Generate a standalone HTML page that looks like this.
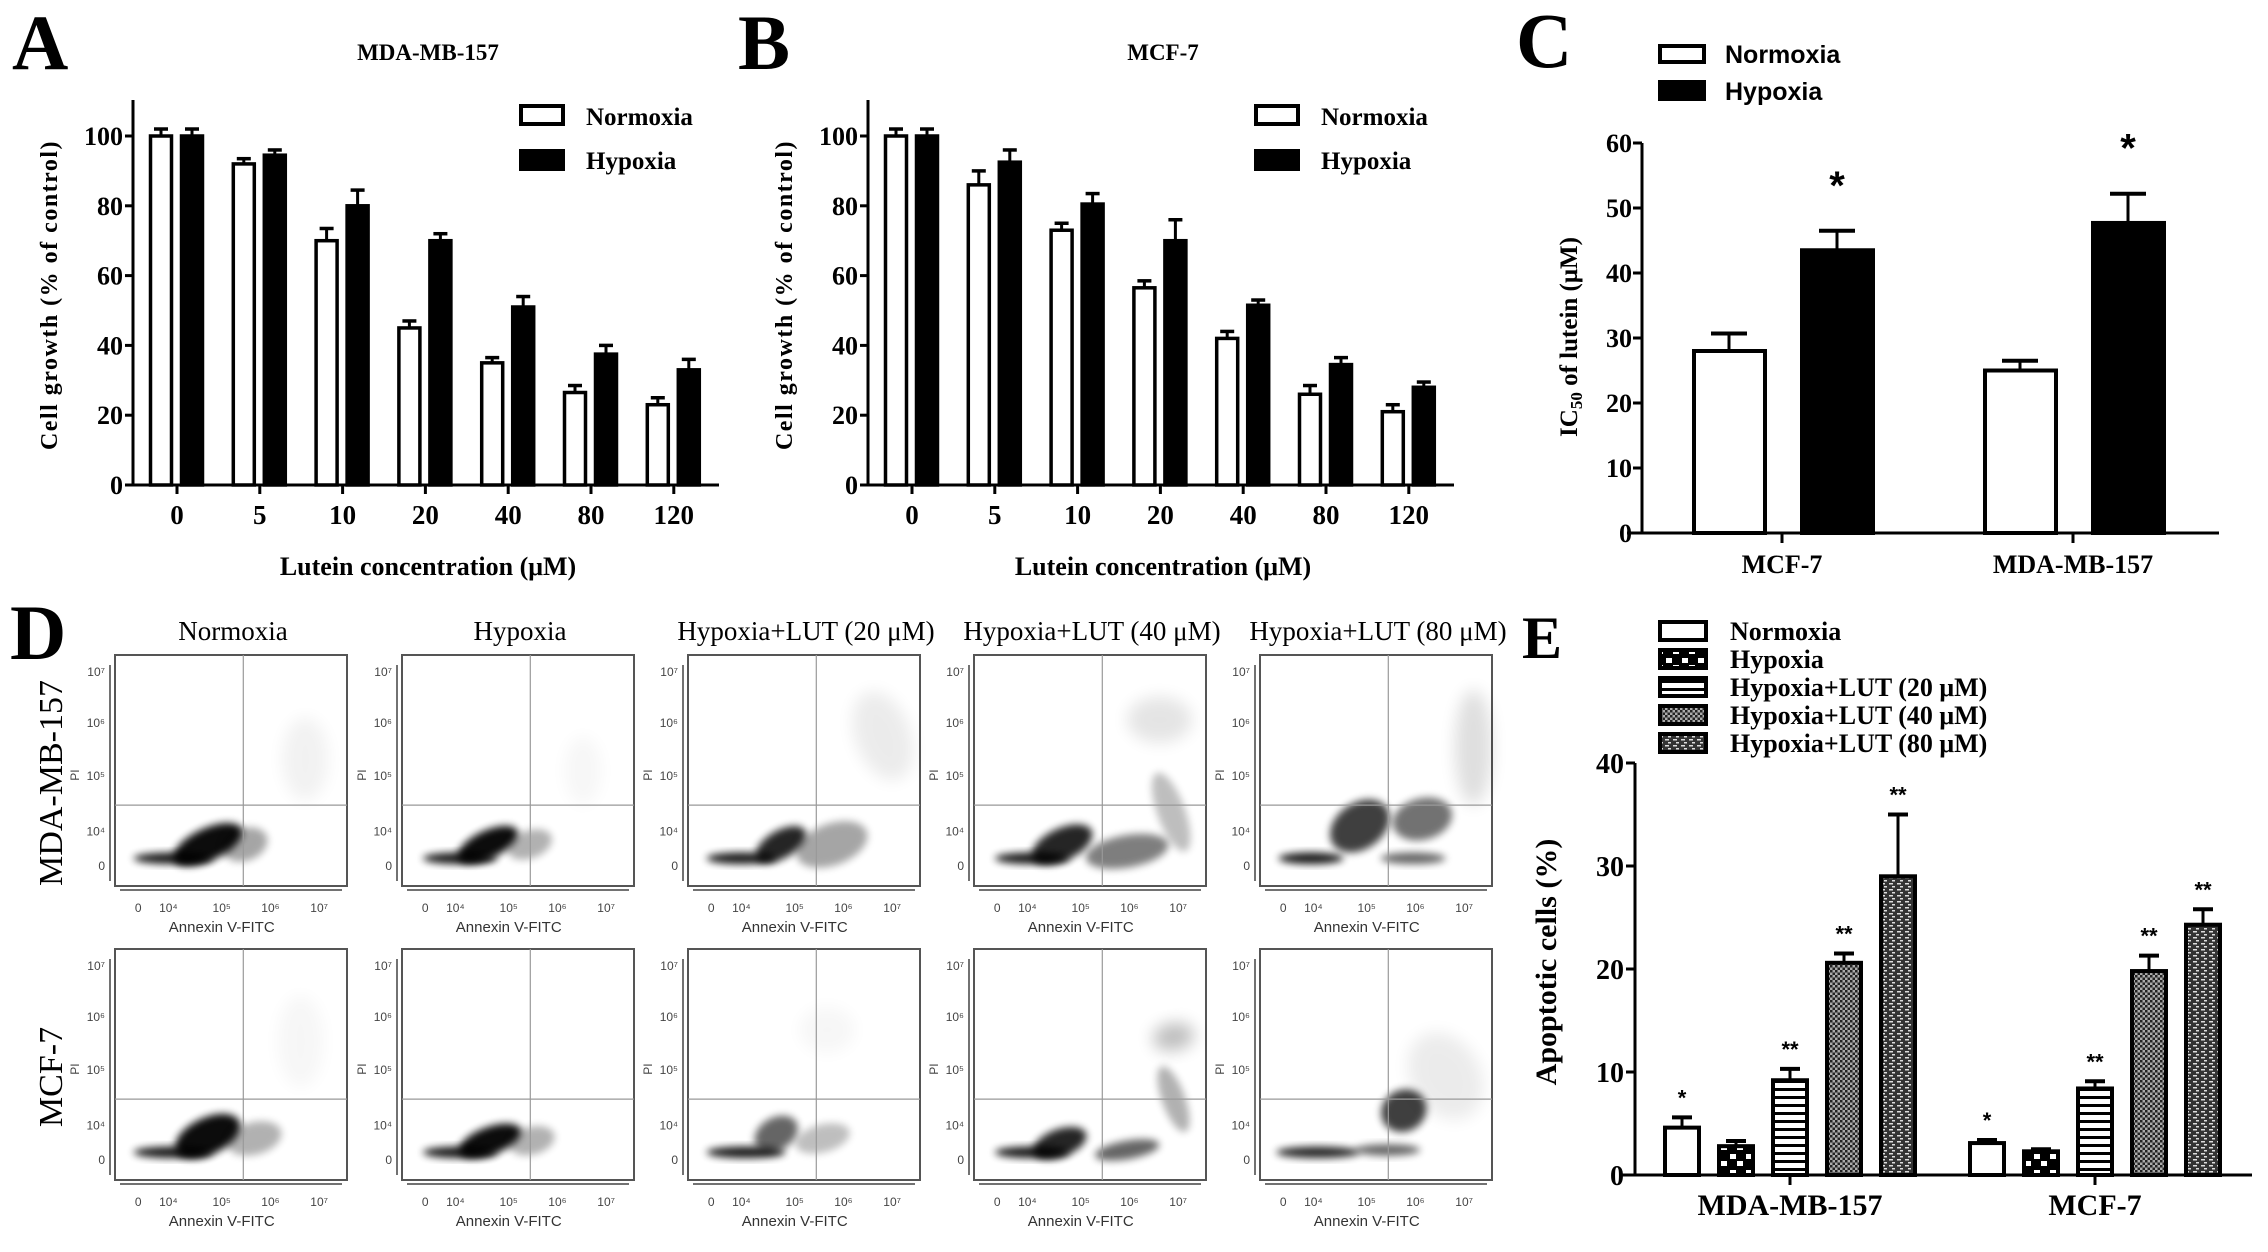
<!DOCTYPE html>
<html><head><meta charset="utf-8"><title>Lutein hypoxia figure</title>
<style>
html,body{margin:0;padding:0;background:#fff;}
svg{display:block;}
.serif{font-family:"Liberation Serif",serif;font-weight:bold;}
.sans{font-family:"Liberation Sans",sans-serif;}
</style></head>
<body>
<svg id="fig" xmlns="http://www.w3.org/2000/svg" width="2268" height="1252" viewBox="0 0 2268 1252">
<defs>
<filter id="blur3" x="-50%" y="-50%" width="200%" height="200%"><feGaussianBlur stdDeviation="4"/></filter>
<filter id="blur6" x="-50%" y="-50%" width="200%" height="200%"><feGaussianBlur stdDeviation="8"/></filter>
<pattern id="pHyp" width="16" height="16" patternUnits="userSpaceOnUse"><rect width="16" height="16" fill="#000"/><rect x="2" y="2" width="6" height="5" fill="#fff"/><rect x="9" y="9" width="6" height="5" fill="#fff"/></pattern>
<pattern id="pL20" width="8" height="8" patternUnits="userSpaceOnUse"><rect width="8" height="8" fill="#fff"/><rect y="0" width="8" height="3" fill="#000"/></pattern>
<pattern id="pL40" width="5" height="5" patternUnits="userSpaceOnUse"><rect width="5" height="5" fill="#aaa"/><rect width="2.5" height="2.5" fill="#222"/><rect x="2.5" y="2.5" width="2.5" height="2.5" fill="#222"/></pattern>
<pattern id="pL80" width="8" height="6" patternUnits="userSpaceOnUse"><rect width="8" height="6" fill="#333"/><rect x="1" y="1" width="4" height="1.5" fill="#ddd"/><rect x="4" y="4" width="3" height="1.5" fill="#ddd"/></pattern>
</defs>

<text class="serif" x="12" y="69" font-size="78">A</text>
<text class="serif" x="738" y="69" font-size="78">B</text>
<text class="serif" x="1516" y="67" font-size="78">C</text>
<text class="serif" x="10" y="659" font-size="78">D</text>
<text class="serif" x="1522" y="658" font-size="60">E</text>

<g id="gA"></g>
<g id="gB"></g>
<g id="gC"></g>
<g id="gD"></g>
<g id="gE"></g>
</svg>
<script>
const concCategories = ["0","5","10","20","40","80","120"];
const aNormoxia = [100, 92, 70, 45, 35, 26.5, 23];
const aNormoxiaErr = [2, 1.5, 3.5, 2, 1.5, 2, 2];
const aHypoxia = [100, 94.5, 80, 70, 51, 37.5, 33];
const aHypoxiaErr = [2, 1.5, 4.5, 2, 3, 2.5, 3];
const bNormoxia = [100, 86, 73, 56.5, 42, 26, 21];
const bNormoxiaErr = [2, 4, 2, 2, 2, 2.5, 2];
const bHypoxia = [100, 92.5, 80.5, 70, 51.5, 34.5, 28];
const bHypoxiaErr = [2, 3.5, 3, 6, 1.5, 2, 1.5];
const growthTicks = [0, 20, 40, 60, 80, 100];

const cCategories = ["MCF-7", "MDA-MB-157"];
const cNormoxia = [28, 25];
const cNormoxiaErr = [2.7, 1.5];
const cHypoxia = [43.5, 47.7];
const cHypoxiaErr = [3, 4.5];
const cTicks = [0, 10, 20, 30, 40, 50, 60];

const eCategories = ["MDA-MB-157", "MCF-7"];
const eSeriesNames = ["Normoxia", "Hypoxia", "Hypoxia+LUT (20 μM)", "Hypoxia+LUT (40 μM)", "Hypoxia+LUT (80 μM)"];
const eMDA = [4.6, 2.8, 9.2, 20.6, 29];
const eMDAErr = [1, 0.5, 1.1, 0.9, 6];
const eMCF = [3.1, 2.3, 8.4, 19.8, 24.3];
const eMCFErr = [0.3, 0.2, 0.7, 1.5, 1.5];
const eSig = ["*", "", "**", "**", "**"];
const eTicks = [0, 10, 20, 30, 40];

const dColumns = ["Normoxia", "Hypoxia", "Hypoxia+LUT (20 μM)", "Hypoxia+LUT (40 μM)", "Hypoxia+LUT (80 μM)"];
const dRows = ["MDA-MB-157", "MCF-7"];

const NS = "http://www.w3.org/2000/svg";
function mk(parent, tag, attrs, txt){
  const e = document.createElementNS(NS, tag);
  for (const k in attrs) e.setAttribute(k, attrs[k]);
  if (txt !== undefined) e.textContent = txt;
  parent.appendChild(e);
  return e;
}

function growthChart(g, dx, title, nVals, nErr, hVals, hErr, key){
  const axX = 133 + dx, y0 = 485, yTop = 100;
  const yS = v => y0 - v * (485 - 136) / 100;
  const xS = i => 177 + dx + i * 82.8;
  const tAttrs = {x: 428 + dx, y: 60, "text-anchor": "middle", class: "serif", "font-size": 23};
  let t = mk(g, "text", tAttrs, title);
  
  
  let ax = mk(g, "line", {x1: axX, y1: yTop, x2: axX, y2: y0, stroke: "#000", "stroke-width": 3});
  
  
  let xa = mk(g, "line", {x1: 125 + dx, y1: y0, x2: 719 + dx, y2: y0, stroke: "#000", "stroke-width": 3});
  
  
  growthTicks.forEach(v => {
    mk(g, "line", {x1: axX - 8, y1: yS(v), x2: axX, y2: yS(v), stroke: "#000", "stroke-width": 3});
    const tl = mk(g, "text", {x: axX - 10, y: yS(v) + 9, "text-anchor": "end", class: "serif", "font-size": 26}, String(v));
    
    
  });
  concCategories.forEach((c, i) => {
    const cx = xS(i);
    mk(g, "line", {x1: cx, y1: y0, x2: cx, y2: y0 + 9, stroke: "#000", "stroke-width": 3});
    const tl = mk(g, "text", {x: cx, y: y0 + 39, "text-anchor": "middle", class: "serif", "font-size": 27}, c);
    
    
    const drawBar = (v, e, left, fill, nm) => {
      const top = yS(v), et = yS(v + e), mid = left + 12;
      mk(g, "line", {x1: mid, y1: top, x2: mid, y2: et, stroke: "#000", "stroke-width": 3});
      mk(g, "line", {x1: mid - 7, y1: et, x2: mid + 7, y2: et, stroke: "#000", "stroke-width": 3.5});
      const r = mk(g, "rect", {x: left + 1.5, y: top, width: 21, height: y0 - top, fill: fill, stroke: "#000", "stroke-width": 3.5});
      
      
    };
    drawBar(nVals[i], nErr[i], cx - 28, "#fff", key + '-bar-normoxia-' + c);
    drawBar(hVals[i], hErr[i], cx + 3, "#000", key + '-bar-hypoxia-' + c);
  });
  const l1 = mk(g, "rect", {x: 521 + dx, y: 106, width: 42, height: 18, fill: "#fff", stroke: "#000", "stroke-width": 4});
  
  
  const l2 = mk(g, "rect", {x: 519 + dx, y: 149, width: 46, height: 22, fill: "#000"});
  
  
  const lt1 = mk(g, "text", {x: 586 + dx, y: 125, class: "serif", "font-size": 25}, "Normoxia");
  
  
  const lt2 = mk(g, "text", {x: 586 + dx, y: 169, class: "serif", "font-size": 25}, "Hypoxia");
  
  
  const xt = mk(g, "text", {x: 428 + dx, y: 575, "text-anchor": "middle", class: "serif", "font-size": 26}, "Lutein concentration (μM)");
  
  
  const yt = mk(g, "text", {x: 0, y: 0, "text-anchor": "middle", class: "serif", "font-size": 24, transform: `translate(${57 + dx},295) rotate(-90)`, "letter-spacing": "1.5"}, "Cell growth (% of  control)");
  
  
}
growthChart(document.getElementById("gA"), 0, "MDA-MB-157", aNormoxia, aNormoxiaErr, aHypoxia, aHypoxiaErr, "a");
growthChart(document.getElementById("gB"), 735, "MCF-7", bNormoxia, bNormoxiaErr, bHypoxia, bHypoxiaErr, "b");

(function(){
  const g = document.getElementById("gC");
  const axX = 1642, y0 = 533;
  const yS = v => y0 - v * 6.5;
  const xS = i => 1782 + i * 291;
  mk(g, "line", {x1: axX, y1: yS(60), x2: axX, y2: y0, stroke: "#000", "stroke-width": 3});
  mk(g, "line", {x1: 1627, y1: y0, x2: 2219, y2: y0, stroke: "#000", "stroke-width": 3});
  cTicks.forEach(v => {
    mk(g, "line", {x1: axX - 9, y1: yS(v), x2: axX, y2: yS(v), stroke: "#000", "stroke-width": 3});
    const t = mk(g, "text", {x: axX - 10, y: yS(v) + 9, "text-anchor": "end", class: "serif", "font-size": 26}, String(v));
    
    
  });
  cCategories.forEach((c, i) => {
    const cx = xS(i);
    mk(g, "line", {x1: cx, y1: y0, x2: cx, y2: y0 + 10, stroke: "#000", "stroke-width": 3});
    const t = mk(g, "text", {x: cx, y: y0 + 40, "text-anchor": "middle", class: "serif", "font-size": 26}, c);
    
    
    const bar = (v, e, left, fill, nm) => {
      const top = yS(v), et = yS(v + e), mid = left + 37;
      mk(g, "line", {x1: mid, y1: top, x2: mid, y2: et, stroke: "#000", "stroke-width": 3});
      mk(g, "line", {x1: mid - 18, y1: et, x2: mid + 18, y2: et, stroke: "#000", "stroke-width": 4});
      const r = mk(g, "rect", {x: left + 2, y: top, width: 71, height: y0 - top, fill: fill, stroke: "#000", "stroke-width": 4});
      
      
      return et;
    };
    bar(cNormoxia[i], cNormoxiaErr[i], cx - 90, "#fff", 'c-bar-normoxia-' + c);
    const et = bar(cHypoxia[i], cHypoxiaErr[i], cx + 18, "#000", 'c-bar-hypoxia-' + c);
    const s = mk(g, "text", {x: cx + 55, y: et - 32, "text-anchor": "middle", class: "sans", "font-size": 40, "font-weight": "bold"}, "*");
    
    
  });
  const s1 = mk(g, "rect", {x: 1660, y: 46, width: 44, height: 16, fill: "#fff", stroke: "#000", "stroke-width": 4});
  
  
  const s2 = mk(g, "rect", {x: 1658, y: 80, width: 48, height: 21, fill: "#000"});
  
  
  const t1 = mk(g, "text", {x: 1725, y: 63, class: "sans", "font-size": 25, "font-weight": "bold"}, "Normoxia");
  
  
  const t2 = mk(g, "text", {x: 1725, y: 100, class: "sans", "font-size": 25, "font-weight": "bold"}, "Hypoxia");
  
  
  const yt = mk(g, "text", {x: 0, y: 0, "text-anchor": "middle", class: "serif", "font-size": 25, transform: "translate(1577,337) rotate(-90)"});
  
  
  mk(yt, "tspan", {}, "IC");
  mk(yt, "tspan", {"font-size": 17, dy: 5}, "50");
  mk(yt, "tspan", {dy: -5}, " of lutein (μM)");
})();

(function(){
  const g = document.getElementById("gE");
  const axX = 1635, y0 = 1175;
  const yS = v => y0 - v * 10.3;
  const groupX = [1790, 2095];
  const fills = ["#fff", "url(#pHyp)", "url(#pL20)", "url(#pL40)", "url(#pL80)"];
  mk(g, "line", {x1: axX, y1: yS(40), x2: axX, y2: y0, stroke: "#000", "stroke-width": 3});
  mk(g, "line", {x1: 1620, y1: y0, x2: 2252, y2: y0, stroke: "#000", "stroke-width": 3});
  eTicks.forEach(v => {
    mk(g, "line", {x1: axX - 9, y1: yS(v), x2: axX, y2: yS(v), stroke: "#000", "stroke-width": 3});
    const t = mk(g, "text", {x: axX - 11, y: yS(v) + 10, "text-anchor": "end", class: "serif", "font-size": 28}, String(v));
    
    
  });
  const groups = [[eMDA, eMDAErr], [eMCF, eMCFErr]];
  eCategories.forEach((c, gi) => {
    const cx = groupX[gi];
    mk(g, "line", {x1: cx, y1: y0, x2: cx, y2: y0 + 10, stroke: "#000", "stroke-width": 3});
    const t = mk(g, "text", {x: cx, y: y0 + 40, "text-anchor": "middle", class: "serif", "font-size": 30}, c);
    
    
    const vals = groups[gi][0], errs = groups[gi][1];
    vals.forEach((v, k) => {
      const mid = cx + (k - 2) * 54;
      const top = yS(v), et = yS(v + errs[k]);
      mk(g, "line", {x1: mid, y1: top, x2: mid, y2: et, stroke: "#000", "stroke-width": 3});
      mk(g, "line", {x1: mid - 10, y1: et, x2: mid + 10, y2: et, stroke: "#000", "stroke-width": 4});
      const r = mk(g, "rect", {x: mid - 17, y: top, width: 34, height: y0 - top, fill: fills[k], stroke: "#000", "stroke-width": 4});
      
      
      if (eSig[k]) {
        const s = mk(g, "text", {x: mid, y: et - 12, "text-anchor": "middle", class: "sans", "font-size": 22, "font-weight": "bold"}, eSig[k]);
        
        
      }
    });
  });
  const rowY = [631, 659, 687, 715, 743];
  eSeriesNames.forEach((n, k) => {
    const sw = mk(g, "rect", {x: 1660, y: rowY[k] - 9, width: 46, height: 18, fill: fills[k], stroke: "#000", "stroke-width": 4});
    
    
    const t = mk(g, "text", {x: 1730, y: rowY[k] + 9, class: "serif", "font-size": 26}, n);
    
    
  });
  const yt = mk(g, "text", {x: 0, y: 0, "text-anchor": "middle", class: "serif", "font-size": 30, transform: "translate(1556,962) rotate(-90)"}, "Apoptotic cells (%)");
  
  
})();

const dLefts = [115, 402, 688, 974, 1260];
const dTops = [655, 949];
const dBlobs = [
  [
    [[0.25,0.88,0.17,0.025,0,0.9],[0.40,0.82,0.16,0.07,-25,0.95],[0.56,0.82,0.1,0.07,-20,0.35],[0.82,0.45,0.1,0.18,0,0.1]],
    [[0.25,0.88,0.16,0.025,0,0.9],[0.37,0.82,0.14,0.06,-25,0.95],[0.55,0.82,0.1,0.06,-20,0.3],[0.78,0.5,0.08,0.15,0,0.06]],
    [[0.23,0.88,0.15,0.025,0,0.9],[0.40,0.82,0.12,0.06,-30,0.85],[0.62,0.82,0.16,0.09,-20,0.35],[0.84,0.35,0.12,0.2,-20,0.15]],
    [[0.25,0.88,0.16,0.025,0,0.9],[0.38,0.82,0.14,0.07,-25,0.85],[0.66,0.85,0.18,0.07,-10,0.5],[0.85,0.68,0.06,0.18,-20,0.25],[0.8,0.28,0.14,0.1,0,0.2]],
    [[0.22,0.88,0.14,0.025,0,0.9],[0.43,0.74,0.14,0.1,-35,0.75],[0.70,0.71,0.13,0.09,-15,0.55],[0.66,0.88,0.14,0.025,0,0.6],[0.92,0.4,0.08,0.25,0,0.25]]
  ],
  [
    [[0.25,0.88,0.17,0.025,0,0.9],[0.40,0.81,0.15,0.08,-25,0.95],[0.6,0.82,0.12,0.07,-15,0.3],[0.8,0.4,0.1,0.2,0,0.06]],
    [[0.25,0.88,0.16,0.025,0,0.9],[0.38,0.83,0.14,0.06,-20,0.95],[0.56,0.83,0.1,0.06,-15,0.3]],
    [[0.25,0.88,0.17,0.025,0,0.9],[0.38,0.8,0.1,0.07,-30,0.6],[0.58,0.82,0.12,0.06,-15,0.25],[0.6,0.35,0.12,0.1,0,0.06]],
    [[0.25,0.88,0.16,0.025,0,0.9],[0.37,0.84,0.12,0.06,-20,0.85],[0.66,0.87,0.14,0.04,-10,0.6],[0.86,0.65,0.05,0.15,-20,0.3],[0.86,0.38,0.09,0.06,-10,0.5]],
    [[0.25,0.88,0.18,0.025,0,0.85],[0.62,0.7,0.1,0.09,-30,0.75],[0.55,0.87,0.14,0.025,0,0.6],[0.8,0.55,0.15,0.2,-30,0.15]]
  ]
];
(function(){
  const g = document.getElementById("gD");
  const W = 232, H = 231;
  dColumns.forEach((c, ci) => {
    const t = mk(g, "text", {x: dLefts[ci] + 118, y: 640, "text-anchor": "middle", "font-family": "Liberation Serif, serif", "font-size": 27}, c);
    
    
  });
  dRows.forEach((r, ri) => {
    const t = mk(g, "text", {x: 0, y: 0, "text-anchor": "middle", "font-family": "Liberation Serif, serif", "font-size": 34, transform: `translate(62,${dTops[ri] + 128}) rotate(-90)`}, r);
    
    
  });
  const yLab = [["10⁷",0.07],["10⁶",0.29],["10⁵",0.52],["10⁴",0.76],["0",0.91]];
  const xLab = [["0",0.10],["10⁴",0.23],["10⁵",0.46],["10⁶",0.67],["10⁷",0.88]];
  dRows.forEach((r, ri) => {
    dColumns.forEach((c, ci) => {
      const L = dLefts[ci], T = dTops[ri];
      const pg = mk(g, "g", {});
      
      
      mk(pg, "rect", {x: L, y: T, width: W, height: H, fill: "#fff", stroke: "#555", "stroke-width": 2});
      dBlobs[ri][ci].forEach(b => {
        const upper = b[1] < 0.65;
        mk(pg, "ellipse", {cx: L + b[0]*W, cy: T + b[1]*H, rx: b[2]*W, ry: b[3]*H, fill: "#000", opacity: upper ? b[5]*0.5 : b[5], filter: upper ? "url(#blur6)" : "url(#blur3)", transform: `rotate(${b[4]} ${L + b[0]*W} ${T + b[1]*H})`});
      });
      mk(pg, "line", {x1: L + 0.553*W, y1: T, x2: L + 0.553*W, y2: T + H, stroke: "#999", "stroke-width": 1.2});
      mk(pg, "line", {x1: L, y1: T + 0.65*H, x2: L + W, y2: T + 0.65*H, stroke: "#999", "stroke-width": 1.2});
      mk(pg, "line", {x1: L - 5, y1: T + 10, x2: L - 5, y2: T + H - 5, stroke: "#444", "stroke-width": 1.5});
      mk(pg, "line", {x1: L + 5, y1: T + H + 4, x2: L + W - 5, y2: T + H + 4, stroke: "#444", "stroke-width": 1.5});
      yLab.forEach(y => {
        const t = mk(pg, "text", {x: L - 10, y: T + y[1]*H + 5, "text-anchor": "end", class: "sans", "font-size": 12, fill: "#444"}, y[0]);
        
        
      });
      xLab.forEach(x => {
        const t = mk(pg, "text", {x: L + x[1]*W, y: T + H + 26, "text-anchor": "middle", class: "sans", "font-size": 12, fill: "#444"}, x[0]);
        
        
      });
      const pi = mk(pg, "text", {x: 0, y: 0, "text-anchor": "middle", class: "sans", "font-size": 12, fill: "#444", transform: `translate(${L - 36},${T + 0.52*H}) rotate(-90)`}, "PI");
      
      
      const ax = mk(pg, "text", {x: L + 0.46*W, y: T + H + 46, "text-anchor": "middle", class: "sans", "font-size": 15, fill: "#333"}, "Annexin V-FITC");
      
      
    });
  });
})();
</script>
</body></html>
